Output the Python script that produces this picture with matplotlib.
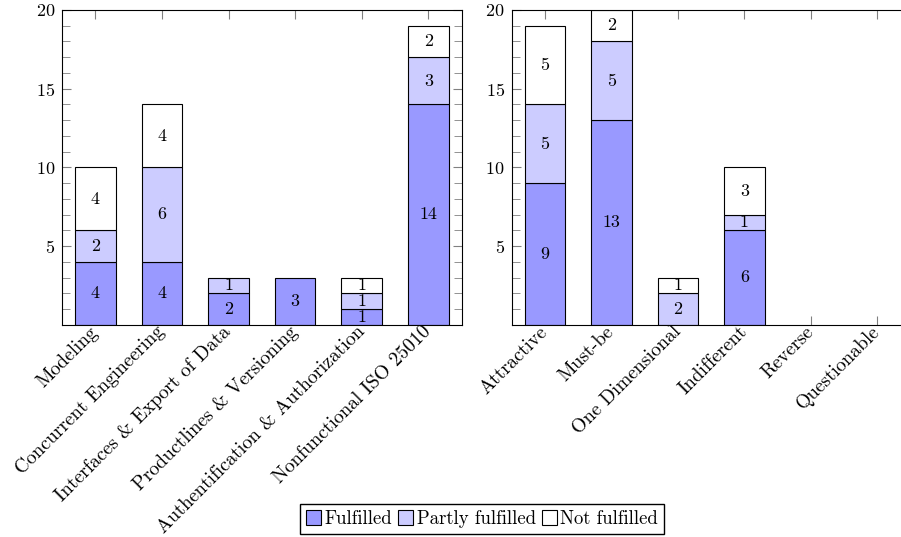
import numpy as np
import matplotlib
matplotlib.use("Agg")
import matplotlib.pyplot as plt
import matplotlib.transforms as mtrans
from matplotlib.patches import Patch

plt.rcParams['font.family'] = ['cmr10', 'DejaVu Serif']
plt.rcParams['mathtext.fontset'] = 'cm'
plt.rcParams['axes.formatter.use_mathtext'] = True
plt.rcParams['font.size'] = 13

# Données
cat_left = ["Modeling", "Concurrent Engineering", "Interfaces & Export of Data",
            "Productlines & Versioning", "Authentification & Authorization",
            "Nonfunctional ISO 25010"]
full_left = [4, 4, 2, 3, 1, 14]
part_left = [2, 6, 1, 0, 1, 3]
not_left = [4, 4, 0, 0, 1, 2]

cat_right = ["Attractive", "Must-be", "One Dimensional", "Indifferent",
             "Reverse", "Questionable"]
full_right = [9, 13, 0, 6, 0, 0]
part_right = [5, 5, 2, 1, 0, 0]
not_right = [5, 2, 1, 3, 0, 0]

series_names = ["Fulfilled", "Partly fulfilled", "Not fulfilled"]
colors = ["#9999ff", "#ccccff", "#ffffff"]

fig = plt.figure(figsize=(9.01, 5.37), dpi=100)
ax1 = fig.add_axes([0.0688, 0.3948, 0.4436, 0.5866])
ax2 = fig.add_axes([0.5679, 0.3948, 0.4427, 0.5866])


def draw(ax, cats, series):
    x = np.arange(len(cats))
    bottom = np.zeros(len(cats))
    for vals, col in zip(series, colors):
        vals = np.array(vals, dtype=float)
        lw = [0.8 if v > 0 else 0 for v in vals]
        bars = ax.bar(x, vals, width=0.61, bottom=bottom, color=col,
                      edgecolor="black", linewidth=lw, zorder=3)
        for rect, v in zip(bars, vals):
            if v > 0:
                ax.text(rect.get_x() + rect.get_width() / 2,
                        rect.get_y() + v / 2, f"{int(v)}",
                        ha="center", va="center", zorder=4)
        bottom += vals
    ax.set_xlim(-0.5, len(cats) - 0.5)
    ax.set_ylim(0, 20)
    ax.set_xticks(x)
    ax.set_xticklabels(cats, rotation=45, ha="right", va="center",
                       rotation_mode="anchor", fontsize=14)
    shift = mtrans.ScaledTranslation(4 / 100, 0, fig.dpi_scale_trans)
    for lab in ax.get_xticklabels():
        lab.set_transform(lab.get_transform() + shift)
    ax.set_yticks([5, 10, 15, 20])
    ax.set_yticks(np.arange(0, 21, 1), minor=True)
    ax.tick_params(axis="both", which="both", direction="in", top=True,
                   right=True, color="#808080")
    ax.tick_params(axis="x", which="minor", top=False, bottom=False)
    ax.tick_params(which="major", length=6.5, pad=5)
    ax.tick_params(axis="x", which="major", pad=3)
    ax.tick_params(which="minor", length=6)
    for s in ax.spines.values():
        s.set_linewidth(0.8)
        s.set_zorder(5)


draw(ax1, cat_left, [full_left, part_left, not_left])
draw(ax2, cat_right, [full_right, part_right, not_right])

handles = [Patch(facecolor=c, edgecolor="black", linewidth=0.8) for c in colors]
fig.legend(handles, series_names, loc="center", bbox_to_anchor=(0.535, 0.0335),
           ncol=3, fancybox=False, edgecolor="black", framealpha=1,
           fontsize=13.5, handlelength=0.8, handleheight=0.9, handletextpad=0.2,
           columnspacing=0.3, borderpad=0.3, borderaxespad=0)

fig.savefig("out.png", dpi=100)
